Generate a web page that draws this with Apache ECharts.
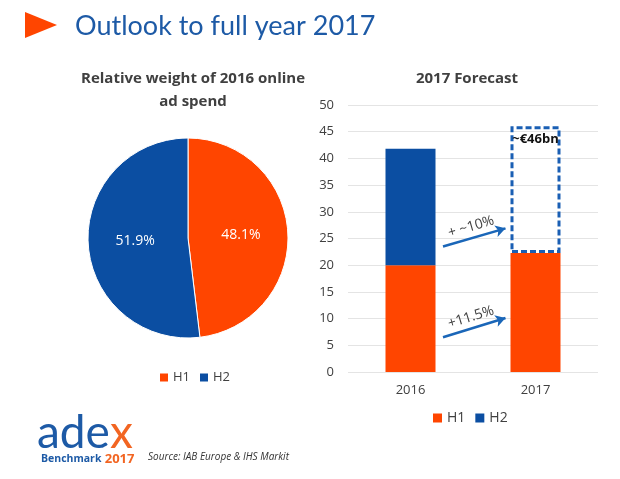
<!DOCTYPE html>
<html>
<head>
<meta charset="utf-8">
<script src="https://cdn.jsdelivr.net/npm/echarts@6/dist/echarts.min.js"></script>
<style>
  html, body { margin: 0; padding: 0; background: #fff; }
  #chart { width: 620px; height: 479px; }
</style>
</head>
<body>
<div id="chart"></div>
<script>
// pie: share of 2016 online ad spend
const pieNames = ['H1', 'H2'];
const pieShares = [48.1, 51.9];

// bar: forecast in bn EUR
const years = ['2016', '2017'];
const h1Values = [20, 22.3];
const h2Values = [21.8, null];
const forecastTotal = 46;
const forecastRest = [null, forecastTotal - 22.3];

// growth arrows (x on 0..2 helper axis, y in bn)
const arrowH2 = [[0.76, 23.5], [1.26, 26.9]];
const arrowH1 = [[0.76, 6.5], [1.26, 10.1]];

const orange = '#ff4500';
const blue = '#0b4ea2';
const dark = '#404040';

const chart = echarts.init(document.getElementById('chart'));

const arrowStyle = { color: '#1a66b8', width: 2.5, type: 'solid' };

chart.setOption({
  animation: false,
  backgroundColor: '#fff',
  title: [
    {
      text: 'Outlook to full year 2017',
      left: 70, top: 8,
      textStyle: { color: '#1d5aa6', fontSize: 27, fontWeight: 'normal', fontFamily: 'Lato' }
    },
    {
      text: 'Relative weight of 2016 online\nad spend',
      left: 188, top: 62, textAlign: 'center',
      textStyle: { color: dark, fontSize: 15, fontWeight: 'bold', lineHeight: 23, fontFamily: 'Open Sans' }
    },
    {
      text: '2017 Forecast',
      left: 462, top: 66, textAlign: 'center',
      textStyle: { color: dark, fontSize: 15, fontWeight: 'bold', fontFamily: 'Open Sans' }
    }
  ],
  legend: [
    {
      data: pieNames.map(n => ({ name: n, itemStyle: { color: n === 'H1' ? orange : blue } })),
      left: 155, top: 366, itemWidth: 8, itemHeight: 8, itemGap: 10, icon: 'rect',
      textStyle: { color: dark, fontSize: 13, fontFamily: 'Open Sans' },
      selectedMode: false
    },
    {
      data: ['H1', 'H2'],
      left: 428, top: 406, itemWidth: 9, itemHeight: 9, itemGap: 10, icon: 'rect',
      textStyle: { color: dark, fontSize: 14, fontFamily: 'Open Sans' },
      selectedMode: false
    }
  ],
  grid: { left: 348, right: 22, top: 105, bottom: 107 },
  xAxis: [
    {
      type: 'category', data: years,
      axisLine: { show: false }, axisTick: { show: false },
      axisLabel: { color: dark, fontSize: 13, margin: 12, fontFamily: 'Open Sans' }
    },
    { type: 'value', min: 0, max: 2, show: false }
  ],
  yAxis: {
    type: 'value', min: 0, max: 50, interval: 5,
    axisLine: { show: false }, axisTick: { show: false },
    axisLabel: { color: dark, fontSize: 13, margin: 14, fontFamily: 'Open Sans' },
    splitLine: { lineStyle: { color: '#e4e4e4' } }
  },
  series: [
    {
      type: 'pie',
      center: [188, 238], radius: 100,
      startAngle: 90, clockwise: true,
      legendHoverLink: false,
      data: pieNames.map((n, i) => ({
        name: n, value: pieShares[i],
        itemStyle: { color: i === 0 ? orange : blue }
      })),
      itemStyle: { borderColor: '#fff', borderWidth: 1 },
      label: {
        position: 'inside', color: '#fff', fontSize: 14, fontFamily: 'Open Sans',
        formatter: p => p.value.toFixed(1) + '%'
      },
      labelLine: { show: false }
    },
    {
      name: 'H1', type: 'bar', stack: 'a', data: h1Values,
      barWidth: '40%', itemStyle: { color: orange }
    },
    {
      name: 'H2', type: 'bar', stack: 'a', data: h2Values,
      barWidth: '40%', itemStyle: { color: blue }
    },
    {
      name: 'forecast', type: 'bar', stack: 'a', data: forecastRest,
      barWidth: '40%',
      itemStyle: { color: 'rgba(255,255,255,0)', borderColor: '#1a5fb4', borderWidth: 3, borderType: [6, 3] },
      label: {
        show: true, position: 'insideTop', distance: 6,
        formatter: '~€' + forecastTotal + 'bn',
        color: '#111', fontSize: 13, fontWeight: 'bold', fontFamily: 'Open Sans'
      }
    },
    {
      type: 'line', xAxisIndex: 1, data: [], silent: true,
      markLine: {
        silent: true, symbol: ['none', 'arrow'], symbolSize: [9, 10],
        lineStyle: arrowStyle,
        label: {
          show: true, position: 'insideMiddleTop', color: dark, fontSize: 14,
          fontFamily: 'Open Sans', distance: 4
        },
        data: [
          [{ coord: arrowH2[0], name: '+ ~10%', label: { formatter: '+ ~10%' } }, { coord: arrowH2[1] }],
          [{ coord: arrowH1[0], name: '+11.5%', label: { formatter: '+11.5%' } }, { coord: arrowH1[1] }]
        ]
      }
    }
  ],
  graphic: [
    {
      type: 'polygon',
      shape: { points: [[25, 12], [57, 25], [25, 38]] },
      style: { fill: '#ff4500' }
    },
    {
      type: 'text', left: 37, top: 410,
      style: {
        text: '{a|ade}{x|x}',
        rich: {
          a: { fill: '#1d5aa6', fontSize: 46, fontFamily: 'Lato', fontWeight: 'normal' },
          x: { fill: '#f26522', fontSize: 46, fontFamily: 'Lato', fontWeight: 'normal' }
        }
      }
    },
    {
      type: 'text', left: 41, top: 453,
      style: {
        text: '{b|Benchmark} {y|2017}',
        rich: {
          b: { fill: '#1d5aa6', fontSize: 10.5, fontWeight: 'bold', fontFamily: 'Open Sans' },
          y: { fill: '#f26522', fontSize: 13, fontWeight: 'bold', fontFamily: 'Open Sans' }
        }
      }
    },
    {
      type: 'text', left: 148, top: 452,
      style: {
        text: 'Source: IAB Europe & IHS Markit',
        fill: '#333', fontSize: 10, fontStyle: 'italic', fontFamily: 'Open Sans'
      }
    }
  ]
});
</script>
</body>
</html>
